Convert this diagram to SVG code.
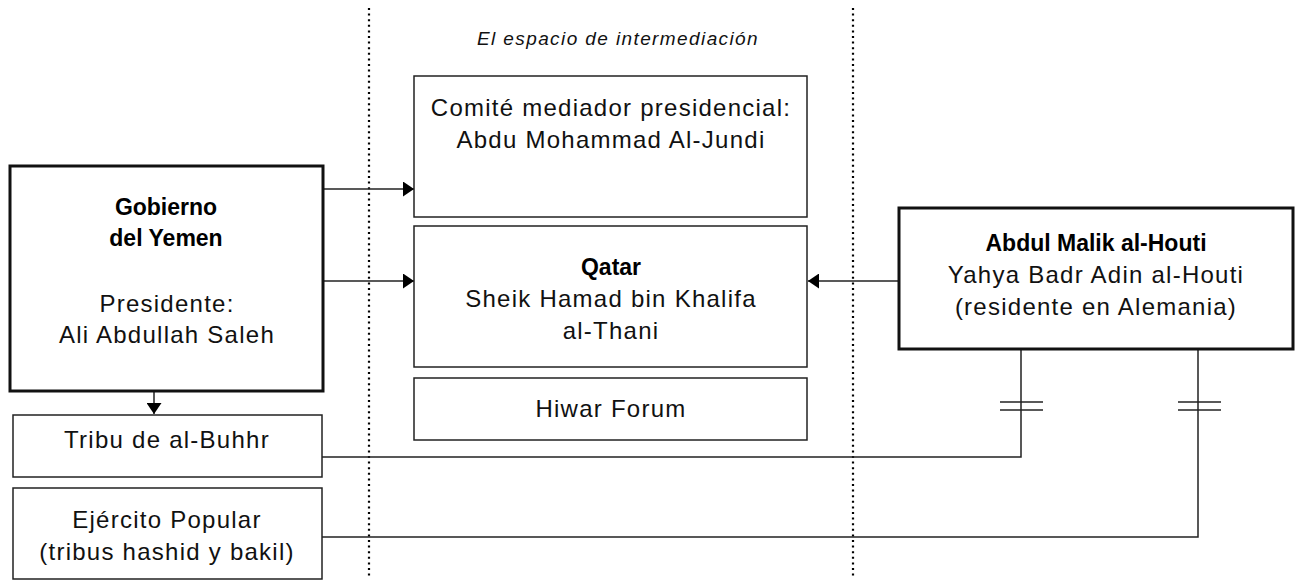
<svg xmlns="http://www.w3.org/2000/svg" width="1295" height="581" viewBox="0 0 1295 581">
<style>
.box{fill:#fff;stroke:#222;stroke-width:1.5}
.thick{fill:#fff;stroke:#111;stroke-width:3}
.t{font-family:"Liberation Sans",Arial,sans-serif;font-size:24px;letter-spacing:1.25px;fill:#111;text-anchor:middle}
.b{font-family:"Liberation Sans",Arial,sans-serif;font-size:23px;font-weight:bold;fill:#000;text-anchor:middle}
.ti{font-family:"Liberation Sans",Arial,sans-serif;font-size:19px;font-style:italic;letter-spacing:1.4px;fill:#111;text-anchor:middle}
.ln{fill:none;stroke:#222;stroke-width:1.5}
.dot{fill:none;stroke:#000;stroke-width:2.2;stroke-dasharray:2 3.6}
</style>
<defs>
<marker id="ah" viewBox="0 0 11 15" refX="11" refY="7.5" markerWidth="11" markerHeight="15" markerUnits="userSpaceOnUse" orient="auto">
<path d="M0,0 L11,7.5 L0,15 Z" fill="#000"/>
</marker>
</defs>
<rect width="1295" height="581" fill="#fff"/>
<g id="separators">
<line class="dot" x1="369" y1="8" x2="369" y2="579"/>
<line class="dot" x1="853" y1="8" x2="853" y2="579"/>
<text class="ti" x="618" y="45">El espacio de intermediación</text>
</g>
<g id="connectors">
<line class="ln" x1="323" y1="189" x2="414" y2="189" marker-end="url(#ah)"/>
<line class="ln" x1="323" y1="281" x2="414" y2="281" marker-end="url(#ah)"/>
<line class="ln" x1="899" y1="281" x2="808" y2="281" marker-end="url(#ah)"/>
<line class="ln" x1="154" y1="391" x2="154" y2="414" marker-end="url(#ah)"/>
<polyline class="ln" points="322,457 1021,457 1021,349"/>
<line class="ln" x1="1000" y1="402" x2="1043" y2="402"/>
<line class="ln" x1="1000" y1="410" x2="1043" y2="410"/>
<polyline class="ln" points="322,537 1198,537 1198,349"/>
<line class="ln" x1="1178" y1="402" x2="1221" y2="402"/>
<line class="ln" x1="1178" y1="410" x2="1221" y2="410"/>
</g>
<g id="gobierno">
<rect class="thick" x="10" y="166" width="313" height="225"/>
<text class="b" x="166" y="215">Gobierno</text>
<text class="b" x="166" y="246">del Yemen</text>
<text class="t" x="167" y="312">Presidente:</text>
<text class="t" x="167" y="343">Ali Abdullah Saleh</text>
</g>
<g id="comite">
<rect class="box" x="414" y="76" width="393" height="141"/>
<text class="t" x="611" y="116">Comité mediador presidencial:</text>
<text class="t" x="611" y="148">Abdu Mohammad Al-Jundi</text>
</g>
<g id="qatar">
<rect class="box" x="414" y="226" width="393" height="141"/>
<text class="b" x="611" y="275">Qatar</text>
<text class="t" x="611" y="307">Sheik Hamad bin Khalifa</text>
<text class="t" x="611" y="339">al-Thani</text>
</g>
<g id="hiwar">
<rect class="box" x="414" y="378" width="393" height="62"/>
<text class="t" x="611" y="417">Hiwar Forum</text>
</g>
<g id="abdul">
<rect class="thick" x="899" y="208" width="394" height="141"/>
<text class="b" x="1096" y="251">Abdul Malik al-Houti</text>
<text class="t" x="1096" y="283">Yahya Badr Adin al-Houti</text>
<text class="t" x="1096" y="315">(residente en Alemania)</text>
</g>
<g id="tribu">
<rect class="box" x="13" y="415" width="309" height="62"/>
<text class="t" x="167" y="448">Tribu de al-Buhhr</text>
</g>
<g id="ejercito">
<rect class="box" x="13" y="488" width="309" height="91"/>
<text class="t" x="167" y="528">Ejército Popular</text>
<text class="t" x="167" y="560">(tribus hashid y bakil)</text>
</g>
</svg>
